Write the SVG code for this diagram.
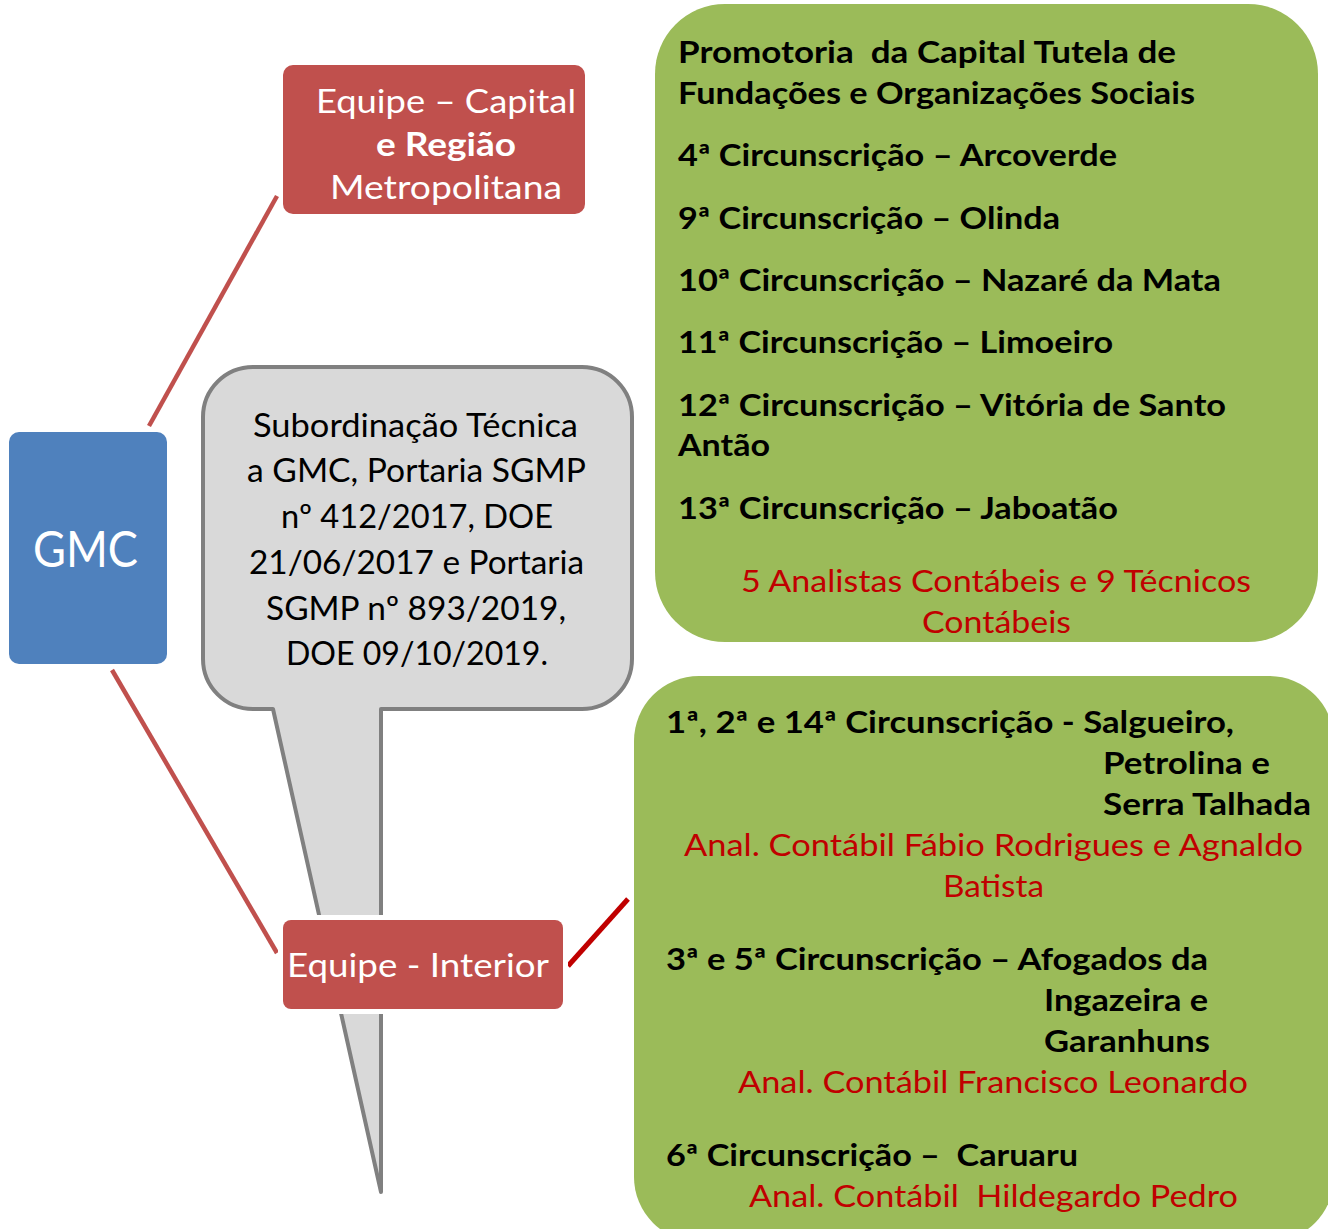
<svg xmlns="http://www.w3.org/2000/svg" width="1328" height="1229" viewBox="0 0 1328 1229">
<style>
text{font-family:Lato,"Open Sans","DejaVu Sans",sans-serif;white-space:pre}
.w{fill:#FFFFFF}
.k{fill:#000000}
.b{font-weight:700}
.r{fill:#C00000}
.g{font-size:30px}
.c{font-size:33px}
.e{font-size:32px}
.red{fill:#C0504D}
.grn{fill:#9BBB59}
</style>
<rect width="1328" height="1229" fill="#FFFFFF"/>
<g id="connectors" stroke-linecap="butt" fill="none">
<line x1="149" y1="426" x2="277" y2="196" stroke="#C0504D" stroke-width="4.5"/>
<line x1="112" y1="670" x2="277" y2="953" stroke="#C0504D" stroke-width="4.5"/>
<line x1="568" y1="966" x2="628" y2="899" stroke="#C00000" stroke-width="5"/>
</g>
<g id="callout">
<path d="M253,709 A50,50 0 0 1 203,659 L203,417 A50,50 0 0 1 253,367 L582,367 A50,50 0 0 1 632,417 L632,659 A50,50 0 0 1 582,709 L381,709 L381,1192 L273,709 Z" fill="#D9D9D9" stroke="#808080" stroke-width="4" stroke-linejoin="round"/>
<g class="k c" text-anchor="start">
<text x="253" y="437" textLength="325" lengthAdjust="spacingAndGlyphs">Subordinação Técnica</text>
<text x="247" y="482" textLength="339" lengthAdjust="spacingAndGlyphs">a GMC, Portaria SGMP</text>
<text x="281" y="528" textLength="272" lengthAdjust="spacingAndGlyphs">nº 412/2017, DOE</text>
<text x="249" y="574" textLength="335" lengthAdjust="spacingAndGlyphs">21/06/2017 e Portaria</text>
<text x="266" y="620" textLength="300" lengthAdjust="spacingAndGlyphs">SGMP nº 893/2019,</text>
<text x="286" y="665" textLength="262" lengthAdjust="spacingAndGlyphs">DOE 09/10/2019.</text>
</g>
</g>
<g id="gmc">
<rect x="9" y="432" width="158" height="232" rx="10" fill="#4F81BD"/>
<text x="33" y="567" class="w" font-size="50" textLength="105" lengthAdjust="spacingAndGlyphs">GMC</text>
</g>
<g id="equipe-capital">
<rect x="283" y="65" width="302" height="149" rx="10" class="red"/>
<text x="316" y="113" class="w e" textLength="260" lengthAdjust="spacingAndGlyphs">Equipe – Capital</text>
<text x="376" y="156" class="w e b" textLength="140" lengthAdjust="spacingAndGlyphs">e Região</text>
<text x="330" y="199" class="w e" textLength="232" lengthAdjust="spacingAndGlyphs">Metropolitana</text>
</g>
<g id="equipe-interior">
<rect x="278" y="915" width="290" height="99" rx="12" fill="#FFFFFF"/>
<rect x="283" y="920" width="280" height="89" rx="8" class="red"/>
<text x="287" y="977" class="w e" textLength="262" lengthAdjust="spacingAndGlyphs">Equipe - Interior</text>
</g>
<g id="capital-list">
<rect x="655" y="4" width="663" height="638" rx="70" class="grn"/>
<g class="k b g">
<text x="678" y="63" textLength="498" lengthAdjust="spacingAndGlyphs">Promotoria  da Capital Tutela de</text>
<text x="678" y="104" textLength="517" lengthAdjust="spacingAndGlyphs">Fundações e Organizações Sociais</text>
<text x="678" y="166" textLength="439" lengthAdjust="spacingAndGlyphs">4ª Circunscrição – Arcoverde</text>
<text x="678" y="229" textLength="382" lengthAdjust="spacingAndGlyphs">9ª Circunscrição – Olinda</text>
<text x="678" y="291" textLength="543" lengthAdjust="spacingAndGlyphs">10ª Circunscrição – Nazaré da Mata</text>
<text x="678" y="353" textLength="435" lengthAdjust="spacingAndGlyphs">11ª Circunscrição – Limoeiro</text>
<text x="678" y="416" textLength="548" lengthAdjust="spacingAndGlyphs">12ª Circunscrição – Vitória de Santo</text>
<text x="678" y="456" textLength="92" lengthAdjust="spacingAndGlyphs">Antão</text>
<text x="678" y="519" textLength="440" lengthAdjust="spacingAndGlyphs">13ª Circunscrição – Jaboatão</text>
</g>
<g class="r g">
<text x="741" y="592" textLength="510" lengthAdjust="spacingAndGlyphs">5 Analistas Contábeis e 9 Técnicos</text>
<text x="922" y="633" textLength="149" lengthAdjust="spacingAndGlyphs">Contábeis</text>
</g>
</g>
<g id="interior-list">
<rect x="634" y="676" width="700" height="566" rx="65" class="grn"/>
<g class="k b g">
<text x="666" y="733" textLength="568" lengthAdjust="spacingAndGlyphs">1ª, 2ª e 14ª Circunscrição - Salgueiro,</text>
<text x="1103" y="774" textLength="167" lengthAdjust="spacingAndGlyphs">Petrolina e</text>
<text x="1103" y="815" textLength="208" lengthAdjust="spacingAndGlyphs">Serra Talhada</text>
<text x="666" y="970" textLength="542" lengthAdjust="spacingAndGlyphs">3ª e 5ª Circunscrição – Afogados da</text>
<text x="1044" y="1011" textLength="164" lengthAdjust="spacingAndGlyphs">Ingazeira e</text>
<text x="1044" y="1052" textLength="166" lengthAdjust="spacingAndGlyphs">Garanhuns</text>
<text x="666" y="1166" textLength="412" lengthAdjust="spacingAndGlyphs">6ª Circunscrição –  Caruaru</text>
</g>
<g class="r g">
<text x="684" y="856" textLength="619" lengthAdjust="spacingAndGlyphs">Anal. Contábil Fábio Rodrigues e Agnaldo</text>
<text x="943" y="897" textLength="101" lengthAdjust="spacingAndGlyphs">Batista</text>
<text x="738" y="1093" textLength="510" lengthAdjust="spacingAndGlyphs">Anal. Contábil Francisco Leonardo</text>
<text x="749" y="1207" textLength="489" lengthAdjust="spacingAndGlyphs">Anal. Contábil  Hildegardo Pedro</text>
</g>
</g>
</svg>
